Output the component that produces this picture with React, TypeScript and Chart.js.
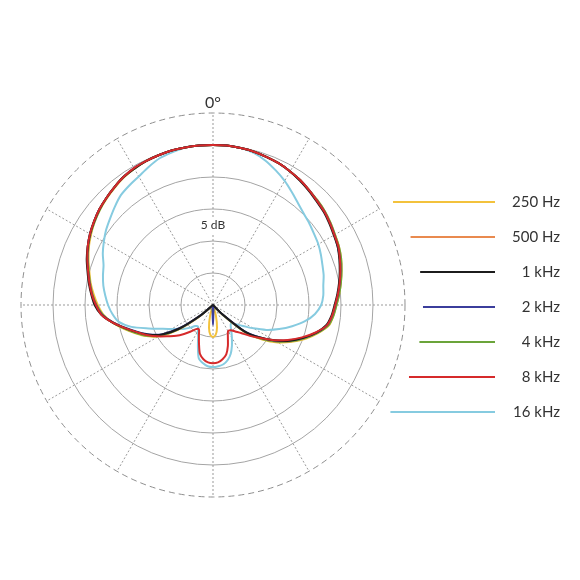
import React, { useEffect, useRef } from 'react';
import { Chart, registerables } from 'chart.js';

Chart.register(...registerables);

// Angles in degrees (clockwise from the front, 0° at top)
const angles = [
  0, 5, 10, 15, 20, 25, 30, 35, 40, 45, 50, 55, 60, 65, 70, 75, 80, 85,
  90, 95, 100, 105, 110, 115, 120, 125, 130, 135, 140, 145, 150, 155, 160, 165, 170, 175,
  180, 185, 190, 195, 200, 205, 210, 215, 220, 225, 230, 235, 240, 245, 250, 255, 260, 265,
  270, 275, 280, 285, 290, 295, 300, 305, 310, 315, 320, 325, 330, 335, 340, 345, 350, 355,
];

const seriesLabels = ['250 Hz', '500 Hz', '1 kHz', '2 kHz', '4 kHz', '8 kHz', '16 kHz'];

// Levels in dB relative to on-axis
const hz250 = [
  0, 0, -0.1, -0.2, -0.4, -0.6, -0.9, -1.2, -1.6, -1.9, -2.2, -2.6, -3.0, -3.3, -3.7, -4.2, -4.7, -5.2,
  -5.7, -6.1, -6.6, -8.0, -9.6, -11.4,
  -13.3, -15.6, -18.2, -22.7, -25, -25,
  -25, -25, -25, -23.2, -21.4, -20.3,
  -20.0, -20.3, -21.4, -23.2, -25, -25,
  -25, -25, -25, -25, -22.0, -18.1,
  -15.2, -13.5, -12.1, -10.6, -9.1, -7.8,
  -7.0, -6.3, -5.6, -5.0, -4.3, -3.6,
  -3.0, -2.4, -1.9, -1.5, -1.1, -0.7,
  -0.4, -0.2, -0.1, 0, 0, 0,
];

const hz500 = [
  0, 0, -0.1, -0.2, -0.4, -0.6, -0.9, -1.2, -1.6, -2.0, -2.3, -2.7, -3.1, -3.4, -3.8, -4.3, -4.8, -5.3,
  -5.8, -6.2, -6.8, -8.2, -9.8, -11.6,
  -13.6, -15.9, -18.4, -22.8, -25, -25,
  -25, -25, -25, -25, -25, -25,
  -25, -25, -25, -25, -25, -25,
  -25, -25, -25, -25, -22.3, -18.4,
  -15.5, -13.8, -12.3, -10.8, -9.1, -7.6,
  -6.8, -6.1, -5.5, -4.8, -4.1, -3.5,
  -2.9, -2.3, -1.8, -1.4, -1.0, -0.6,
  -0.4, -0.2, -0.1, 0, 0, 0,
];

const khz1 = [
  0, 0, -0.1, -0.2, -0.4, -0.6, -0.9, -1.3, -1.7, -2.1, -2.4, -2.8, -3.2, -3.5, -4.0, -4.5, -5.0, -5.5,
  -6.0, -6.4, -7.0, -8.3, -10.0, -11.8,
  -14.0, -16.2, -18.6, -23.0, -25, -25,
  -25, -25, -25, -25, -25, -25,
  -25, -25, -25, -25, -25, -25,
  -25, -25, -25, -25, -22.5, -18.6,
  -15.8, -14.0, -12.5, -10.9, -9.1, -7.5,
  -6.5, -5.9, -5.3, -4.7, -4.0, -3.4,
  -2.8, -2.3, -1.8, -1.4, -1.0, -0.6,
  -0.4, -0.2, -0.1, 0, 0, 0,
];

const khz2 = [
  0, 0, -0.1, -0.2, -0.4, -0.6, -0.9, -1.2, -1.6, -2.0, -2.3, -2.7, -3.1, -3.5, -3.9, -4.4, -4.9, -5.4,
  -5.9, -6.3, -6.9, -8.3, -10.0, -11.9,
  -13.9, -16.2, -18.8, -23.0, -25, -25,
  -25, -25, -25, -25, -25, -24.3,
  -21.9, -24.3, -25, -25, -25, -25,
  -25, -25, -25, -25, -22.6, -18.8,
  -15.9, -14.1, -12.6, -11.0, -9.2, -7.6,
  -6.7, -6.0, -5.4, -4.8, -4.1, -3.4,
  -2.8, -2.3, -1.8, -1.4, -1.0, -0.6,
  -0.3, -0.2, -0.1, 0, 0, 0,
];

const khz4 = [
  0, 0, -0.1, -0.2, -0.4, -0.6, -0.9, -1.2, -1.6, -1.9, -2.2, -2.6, -3.0, -3.3, -3.7, -4.2, -4.7, -5.2,
  -5.7, -6.1, -6.7, -8.1, -9.8, -11.6,
  -13.6, -15.8, -18.3, -22.8, -25, -25,
  -25, -25, -25, -25, -25, -24.4,
  -23.8, -24.4, -25, -25, -25, -25,
  -25, -25, -25, -25, -22.2, -18.3,
  -15.4, -13.6, -12.2, -10.7, -9.1, -7.7,
  -6.8, -6.1, -5.5, -4.9, -4.2, -3.5,
  -2.9, -2.4, -1.9, -1.4, -1.0, -0.6,
  -0.4, -0.2, -0.1, 0, 0, 0,
];

const khz8 = [
  0, 0, -0.1, -0.2, -0.4, -0.6, -0.9, -1.2, -1.6, -2.0, -2.3, -2.7, -3.1, -3.4, -3.9, -4.4, -4.9, -5.4,
  -5.9, -6.3, -6.9, -8.4, -10.2, -12.1,
  -14.0, -16.0, -17.5, -18.8, -19.6, -20.2,
  -20.3, -19.5, -18.2, -17.0, -16.4, -16.0,
  -15.9, -16.0, -16.4, -17.1, -18.6, -19.8,
  -20.6, -20.4, -19.6, -18.6, -17.5, -16.5,
  -15.2, -13.8, -12.5, -10.9, -9.1, -7.5,
  -6.7, -6.0, -5.4, -4.8, -4.1, -3.4,
  -2.8, -2.3, -1.8, -1.4, -1.0, -0.6,
  -0.3, -0.2, -0.1, 0, 0, 0,
];

const khz16 = [
  0, 0, -0.1, -0.4, -1.0, -1.8, -2.6, -3.5, -4.3, -4.9, -5.3, -5.7, -6.0, -6.4, -6.8, -7.1, -7.5, -7.7,
  -8.1, -9.0, -10.4, -12.2, -14.0, -15.8,
  -17.7, -19.3, -20.3, -21.0, -20.7, -20.0,
  -19.1, -18.0, -16.9, -16.1, -15.6, -15.4,
  -15.3, -15.4, -15.8, -16.4, -18.1, -19.5,
  -20.3, -20.9, -20.7, -20.0, -19.2, -18.5,
  -17.5, -16.2, -14.3, -11.8, -10.0, -9.2,
  -8.6, -8.1, -7.6, -7.2, -6.8, -6.0,
  -5.3, -4.6, -4.0, -3.3, -2.6, -2.2,
  -1.8, -1.2, -0.6, -0.3, 0, 0,
];

const seriesValues = [hz250, hz500, khz1, khz2, khz4, khz8, khz16];
const seriesColors = ['#f3c23c', '#e98a4f', '#1c1c1c', '#3b3e9c', '#6ba43a', '#d62a2b', '#86cbe0'];
const drawOrder = [5, 4, 1, 2, 3, 0, 6];

const scaleMin = -25;
const scaleMax = 5;
const ringStep = 5;
const tickStep = 2.5;
const ringLabelValue = -12.5;
const ringLabel = '5 dB';
const frontLabel = '0°';
const spokeEvery = 6; // every 30°

const FONT = 'Lato, "Open Sans", sans-serif';

const decorPlugin = {
  id: 'decor',
  afterDraw(chart: any) {
    const s = chart.scales.r;
    const ctx = chart.ctx as CanvasRenderingContext2D;
    const cx = s.xCenter;
    const cy = s.yCenter;
    const R = s.getDistanceFromCenterForValue(scaleMax);
    ctx.save();
    ctx.fillStyle = '#333';
    ctx.textBaseline = 'middle';
    ctx.textAlign = 'center';
    ctx.font = `16px ${FONT}`;
    ctx.fillText(frontLabel, cx, cy - R - 10);

    const textRight = chart.width - 20;
    const lineEnd = textRight - 65;
    chart.data.datasets.forEach((ds: any, i: number) => {
      const y = cy + 2 + (i - 3) * 35;
      const dy = y - cy;
      const x0 = cx + Math.sqrt(Math.max(0, R * R - dy * dy)) + 18;
      ctx.strokeStyle = ds.borderColor;
      ctx.lineWidth = 2;
      ctx.beginPath();
      ctx.moveTo(x0, y);
      ctx.lineTo(lineEnd, y);
      ctx.stroke();
      ctx.textAlign = 'right';
      ctx.font = `15px ${FONT}`;
      ctx.fillStyle = '#333';
      ctx.fillText(ds.label, textRight, y);
    });
    ctx.restore();
  },
};

export default function App() {
  const canvasRef = useRef<HTMLCanvasElement | null>(null);

  useEffect(() => {
    if (!canvasRef.current) return;
    Chart.defaults.font.family = FONT;
    const isRing = (v: number) => Math.abs(v / ringStep - Math.round(v / ringStep)) < 1e-6 && v > scaleMin;
    const chart = new Chart(canvasRef.current, {
      type: 'radar',
      data: {
        labels: angles.map((a) => String(a)),
        datasets: seriesLabels.map((label, i) => ({
          label,
          data: seriesValues[i],
          borderColor: seriesColors[i],
          backgroundColor: seriesColors[i],
          borderWidth: 2,
          fill: false,
          pointRadius: 0,
          pointHoverRadius: 0,
          tension: 0.25,
          order: drawOrder[i],
        })),
      },
      options: {
        animation: false,
        responsive: false,
        layout: { padding: { left: 13, right: 167, top: 105, bottom: 75 } },
        plugins: {
          legend: { display: false },
          tooltip: { enabled: false },
        },
        elements: { line: { borderJoinStyle: 'round', borderCapStyle: 'round' } },
        scales: {
          r: {
            min: scaleMin,
            max: scaleMax,
            startAngle: 0,
            grid: {
              circular: true,
              color: (c: any) => (c.tick && c.tick.value === scaleMax ? '#8e8e8e' : '#a4a4a4'),
              lineWidth: (c: any) => (c.tick && (c.tick.value === scaleMax || isRing(c.tick.value)) ? 1 : 0),
            },
            border: {
              dash: (c: any) => (c.tick && c.tick.value === scaleMax ? [6, 4] : []),
            },
            angleLines: {
              display: true,
              color: '#9a9a9a',
              lineWidth: (c: any) => (c.index % spokeEvery === 0 ? 1 : 0),
              borderDash: [2, 2],
            },
            pointLabels: { display: false },
            ticks: {
              stepSize: tickStep,
              maxTicksLimit: 13,
              color: '#333',
              font: { size: 12, family: FONT },
              backdropColor: '#ffffff',
              showLabelBackdrop: (c: any) => Math.abs(c.tick.value - ringLabelValue) < 1e-6,
              callback: (v: any) => (Math.abs(Number(v) - ringLabelValue) < 1e-6 ? ringLabel : ''),
            },
          },
        },
      } as any,
      plugins: [decorPlugin],
    });
    return () => chart.destroy();
  }, []);

  return (
    <div style={{ position: 'absolute', left: 0, top: 0, width: 580, height: 580, background: '#fff' }}>
      <canvas ref={canvasRef} width={580} height={580} />
    </div>
  );
}
